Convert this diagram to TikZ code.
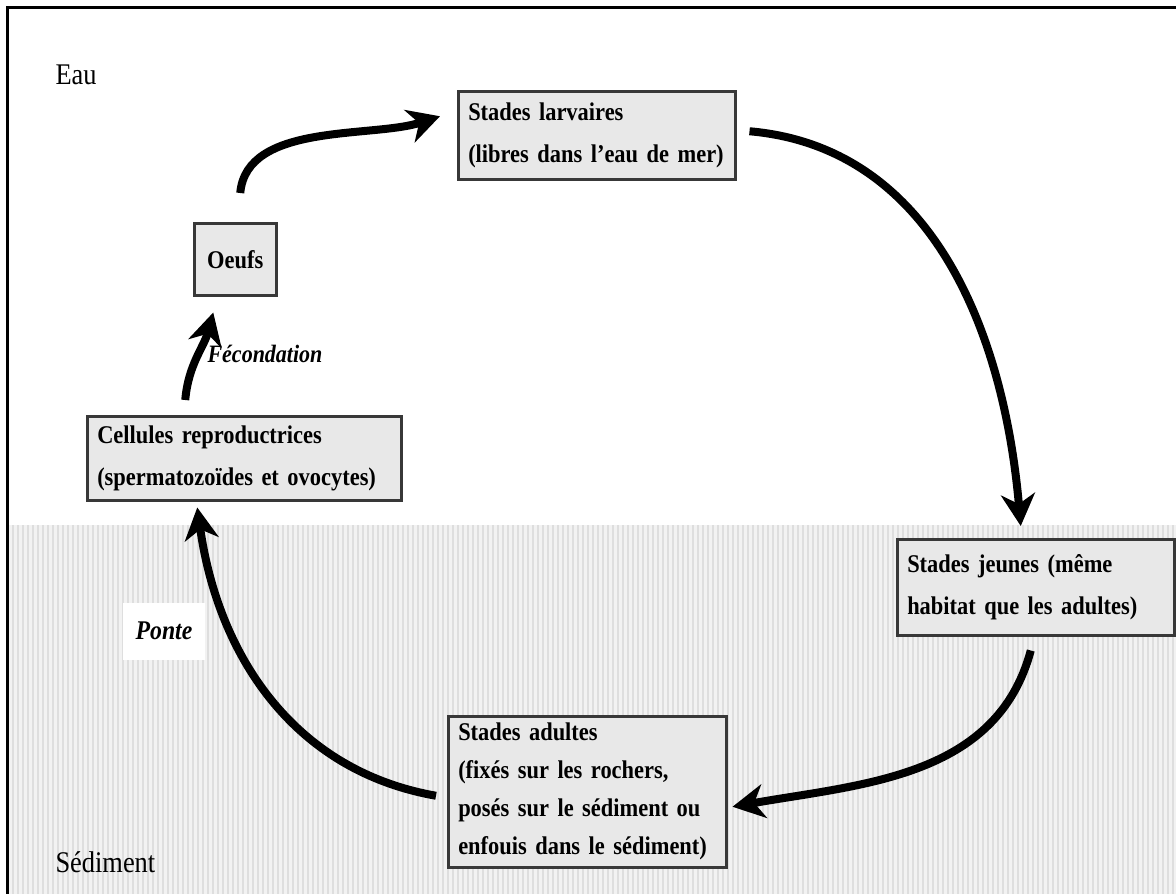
\documentclass[tikz,border=0pt]{standalone}
\usepackage{fontspec}
\setmainfont{Liberation Serif}
\newfontfamily\condfont{Liberation Serif}[FakeStretch=0.88]
\usetikzlibrary{arrows.meta,shadows}
\newcommand\tightsp{\spaceskip=0.2em plus 0.05em minus 0.02em\relax}
\begin{document}
\begin{tikzpicture}[x=1pt,y=-1pt,
  stage/.style={draw=black!78, line width=2.5pt, fill=black!9, anchor=north west,
    inner xsep=10pt, inner ysep=6pt, align=left,
    font=\condfont\fontsize{25.5}{42}\selectfont\bfseries\tightsp,
    drop shadow={shadow xshift=2pt, shadow yshift=-2pt, fill=black!35, opacity=1}},
  zone/.style={anchor=west, font=\condfont\fontsize{30}{30}\selectfont},
  lab/.style={font=\condfont\fontsize{25}{25}\selectfont\bfseries\itshape},
  arr/.style={line width=8pt, -{Stealth[length=32pt,width=34pt,inset=10pt]}}]
\useasboundingbox (0,0) rectangle (1176,894);
% sediment zone
\fill[black!5] (6,525) rectangle (1176,894);
\foreach \x in {8,13,...,1176} \draw[black!13, line width=1.6pt] (\x,525) -- (\x,894);
% frame
\draw[line width=3pt] (7.5,894) -- (7.5,7.5) -- (1176,7.5);
% zone labels
\node[zone] (eau) at (52,75) {Eau};
\node[zone] (sed) at (52,862) {Sédiment};
% stages
\node[stage, text width=257pt, minimum height=88pt] (larv) at (457,90) {Stades larvaires\\(libres dans l’eau de mer)};
\node[stage, align=center, text width=62pt, minimum height=72pt] (oeufs) at (193,222) {Oeufs};
\node[stage, text width=294pt, minimum height=84pt] (cell) at (86,415) {Cellules reproductrices\\(spermatozoïdes et ovocytes)};
\node[stage, text width=257pt, minimum height=96pt] (jeunes) at (896,538) {Stades jeunes (même\\habitat que les adultes)};
\node[stage, text width=258pt, minimum height=151pt, font=\condfont\fontsize{25.5}{38}\selectfont\bfseries\tightsp] (adultes) at (447,715) {Stades adultes\\(fixés sur les rochers,\\posés sur le sédiment ou\\enfouis dans le sédiment)};
% labels
\node[lab] (fec) at (265,354) {Fécondation};
\node[lab, fill=white, minimum width=82pt, minimum height=57pt, font=\condfont\fontsize{27}{27}\selectfont\bfseries\itshape] (ponte) at (164,631) {Ponte};
% cycle arrows
\draw[arr] ([xshift=5pt,yshift=29pt]oeufs.north) to[out=85,in=198,looseness=0.85] ([xshift=-17pt,yshift=19pt]larv.west);
\draw[arr] ([xshift=13pt,yshift=4pt]larv.east) to[out=-5,in=95] ([xshift=-15pt,yshift=12pt]jeunes.north);
\draw[arr] ([xshift=-5pt,yshift=-14pt]jeunes.south) to[out=-105,in=10] ([xshift=5pt,yshift=-15pt]adultes.east);
\draw[arr] ([xshift=-11pt,yshift=-4pt]adultes.west) to[out=170,in=-82] ([xshift=-47pt,yshift=-6pt]cell.south);
\draw[arr] ([xshift=-59pt,yshift=15pt]cell.north) to[out=85,in=-105] ([xshift=-22pt,yshift=-16pt]oeufs.south);
\end{tikzpicture}
\end{document}
